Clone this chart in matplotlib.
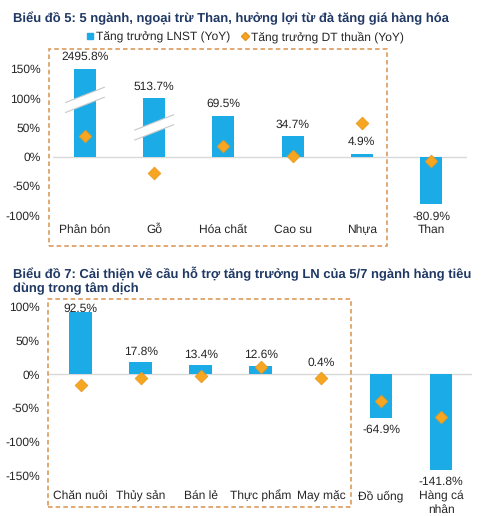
import matplotlib
matplotlib.use("Agg")
import matplotlib.pyplot as plt
from matplotlib.patches import Rectangle, Polygon
from matplotlib.lines import Line2D
import numpy as np

plt.rcParams['font.family'] = ['Liberation Sans', 'DejaVu Sans']
plt.rcParams['text.hinting'] = 'no_hinting'
plt.rcParams['text.hinting_factor'] = 1

# ---- Chart 5 data ----
cats1 = ["Phân bón", "Gỗ", "Hóa chất", "Cao su", "Nhựa", "Than"]
lnst1 = [2495.8, 513.7, 69.5, 34.7, 4.9, -80.9]          # actual LNST growth (%)
lnst1_shown = [150, 100, 69.5, 34.7, 4.9, -80.9]          # bar height shown (axis broken)
dt1 = [36, -27, 19, 1, 58, -7]                             # DT thuần growth (%)
yticks1 = [-100, -50, 0, 50, 100, 150]

# ---- Chart 7 data ----
cats2 = ["Chăn nuôi", "Thủy sản", "Bán lẻ", "Thực phẩm", "May mặc", "Đồ uống", "Hàng cá\nnhân"]
lnst2 = [92.5, 17.8, 13.4, 12.6, 0.4, -64.9, -141.8]
dt2 = [-16, -6, -3, 11, -5, -39, -64]
yticks2 = [-150, -100, -50, 0, 50, 100]

title1 = "Biểu đồ 5: 5 ngành, ngoại trừ Than, hưởng lợi từ đà tăng giá hàng hóa"
title2 = "Biểu đồ 7: Cải thiện về cầu hỗ trợ tăng trưởng LN của 5/7 ngành hàng tiêu\ndùng trong tâm dịch"
leg1 = "Tăng trưởng LNST (YoY)"
leg2 = "Tăng trưởng DT thuần (YoY)"

BLUE = "#1BACE8"
ORANGE = "#F6A621"
OEDGE = "#E8941A"
NAVY = "#1F3864"
TXT = "#262626"
BOX = "#D9924E"
FS = 8.3
TFS = 9.7

W, H = 499, 516
fig = plt.figure(figsize=(W / 100, H / 100), dpi=100)


def px_axes(x0, y0, x1, y1):
    return fig.add_axes([x0 / W, 1 - y1 / H, (x1 - x0) / W, (y1 - y0) / H])


def style(ax, yticks, pad):
    for s in ax.spines.values():
        s.set_visible(False)
    ax.set_xticks([])
    ax.set_yticks(yticks)
    ax.set_yticklabels([f"{t}%" for t in yticks], fontsize=FS, color=TXT)
    ax.tick_params(axis='y', length=0, pad=pad)
    ax.patch.set_alpha(0)


# ================= Chart 5 =================
fig.text(13 / W, 1 - 18 / H, title1, fontsize=TFS, fontweight='bold', color=NAVY, va='center', ha='left')

ax1 = px_axes(53, 50, 467, 246)
ppu1 = 29.3 / 50  # px per unit
ax1.set_ylim((156.7 - 246) / ppu1, (156.7 - 50) / ppu1)
sp1 = 69.2
ax1.set_xlim((53 - 85) / sp1, (467 - 85) / sp1)
style(ax1, yticks1, 9)
x1 = np.arange(len(cats1))
ax1.axhline(0, color="#D9D9D9", lw=1, zorder=1)
ax1.bar(x1, lnst1_shown, width=0.32, color=BLUE, zorder=2)
ax1.scatter(x1, dt1, marker='D', s=42, color=ORANGE, edgecolor=OEDGE, linewidth=0.5, zorder=4)

# axis-break bands on the first two bars
for i, yc in [(0, 97), (1, 50)]:
    hw = 0.28
    dy = 13
    band = 8.5
    poly = Polygon([(i - hw, yc - dy - band), (i + hw, yc + dy - band),
                    (i + hw, yc + dy + band), (i - hw, yc - dy + band)],
                   closed=True, facecolor='white', edgecolor='none', zorder=3)
    ax1.add_patch(poly)
    for sgn in (-1, 1):
        ax1.plot([i - hw, i + hw], [yc - dy + sgn * band, yc + dy + sgn * band],
                 color="#C8C8C8", lw=0.8, zorder=3)

for i, (v, s) in enumerate(zip(lnst1, lnst1_shown)):
    if v >= 0:
        ax1.text(i, s + 20, f"{v}%", ha='center', va='center', fontsize=FS, color=TXT, zorder=5)
    else:
        ax1.text(i, s - 21, f"{v}%", ha='center', va='center', fontsize=FS, color=TXT, zorder=5)
ycat1 = (156.7 - 230) / ppu1
for i, c in enumerate(cats1):
    ax1.text(i, ycat1, c, ha='center', va='center', fontsize=FS, color=TXT)

handles = [Line2D([], [], marker='s', linestyle='none', color=BLUE, markersize=5),
           Line2D([], [], marker='D', linestyle='none', color=ORANGE, markeredgecolor=OEDGE, markersize=4.5)]
fig.legend(handles, [leg1, leg2], loc='center', bbox_to_anchor=(245 / W, 1 - 37 / H), ncol=2,
           frameon=False, fontsize=FS, handlelength=0.6, handletextpad=0.2, columnspacing=1.0,
           labelcolor=TXT)

fig.add_artist(Rectangle((49 / W, 1 - 246 / H), (387 - 49) / W, (246 - 49) / H,
                         transform=fig.transFigure, fill=False, edgecolor=BOX,
                         linestyle=(0, (3, 2)), lw=1.1))

# ================= Chart 7 =================
fig.text(13 / W, 1 - 280.5 / H, title2, fontsize=TFS, fontweight='bold', color=NAVY, va='center',
         ha='left', linespacing=1.15)

ax2 = px_axes(48, 299, 472, 507)
ppu2 = 33.67 / 50
ax2.set_ylim((374.3 - 507) / ppu2, (374.3 - 299) / ppu2)
sp2 = 60.06
ax2.set_xlim((48 - 80.7) / sp2, (472 - 80.7) / sp2)
style(ax2, yticks2, 6)
x2 = np.arange(len(cats2))
ax2.axhline(0, color="#D9D9D9", lw=1, zorder=1)
ax2.bar(x2, lnst2, width=0.38, color=BLUE, zorder=2)
ax2.scatter(x2, dt2, marker='D', s=42, color=ORANGE, edgecolor=OEDGE, linewidth=0.5, zorder=4)
ylim_top = (374.3 - 309) / ppu2
for i, v in enumerate(lnst2):
    if v >= 0:
        y = min(v + 16, ylim_top)
    else:
        y = v - 18
    ax2.text(i, y, f"{v}%", ha='center', va='center', fontsize=FS, color=TXT, zorder=5)
ycat2 = (374.3 - 496) / ppu2
ycat2b = (374.3 - 503) / ppu2
for i, c in enumerate(cats2):
    two = '\n' in c
    ax2.text(i, ycat2b if two else ycat2, c, ha='center', va='center', fontsize=FS, color=TXT,
             linespacing=1.25)

fig.add_artist(Rectangle((48 / W, 1 - 507 / H), (351 - 48) / W, (507 - 299) / H,
                         transform=fig.transFigure, fill=False, edgecolor=BOX,
                         linestyle=(0, (3, 2)), lw=1.1))

fig.savefig("out.png", dpi=100, facecolor='white')
